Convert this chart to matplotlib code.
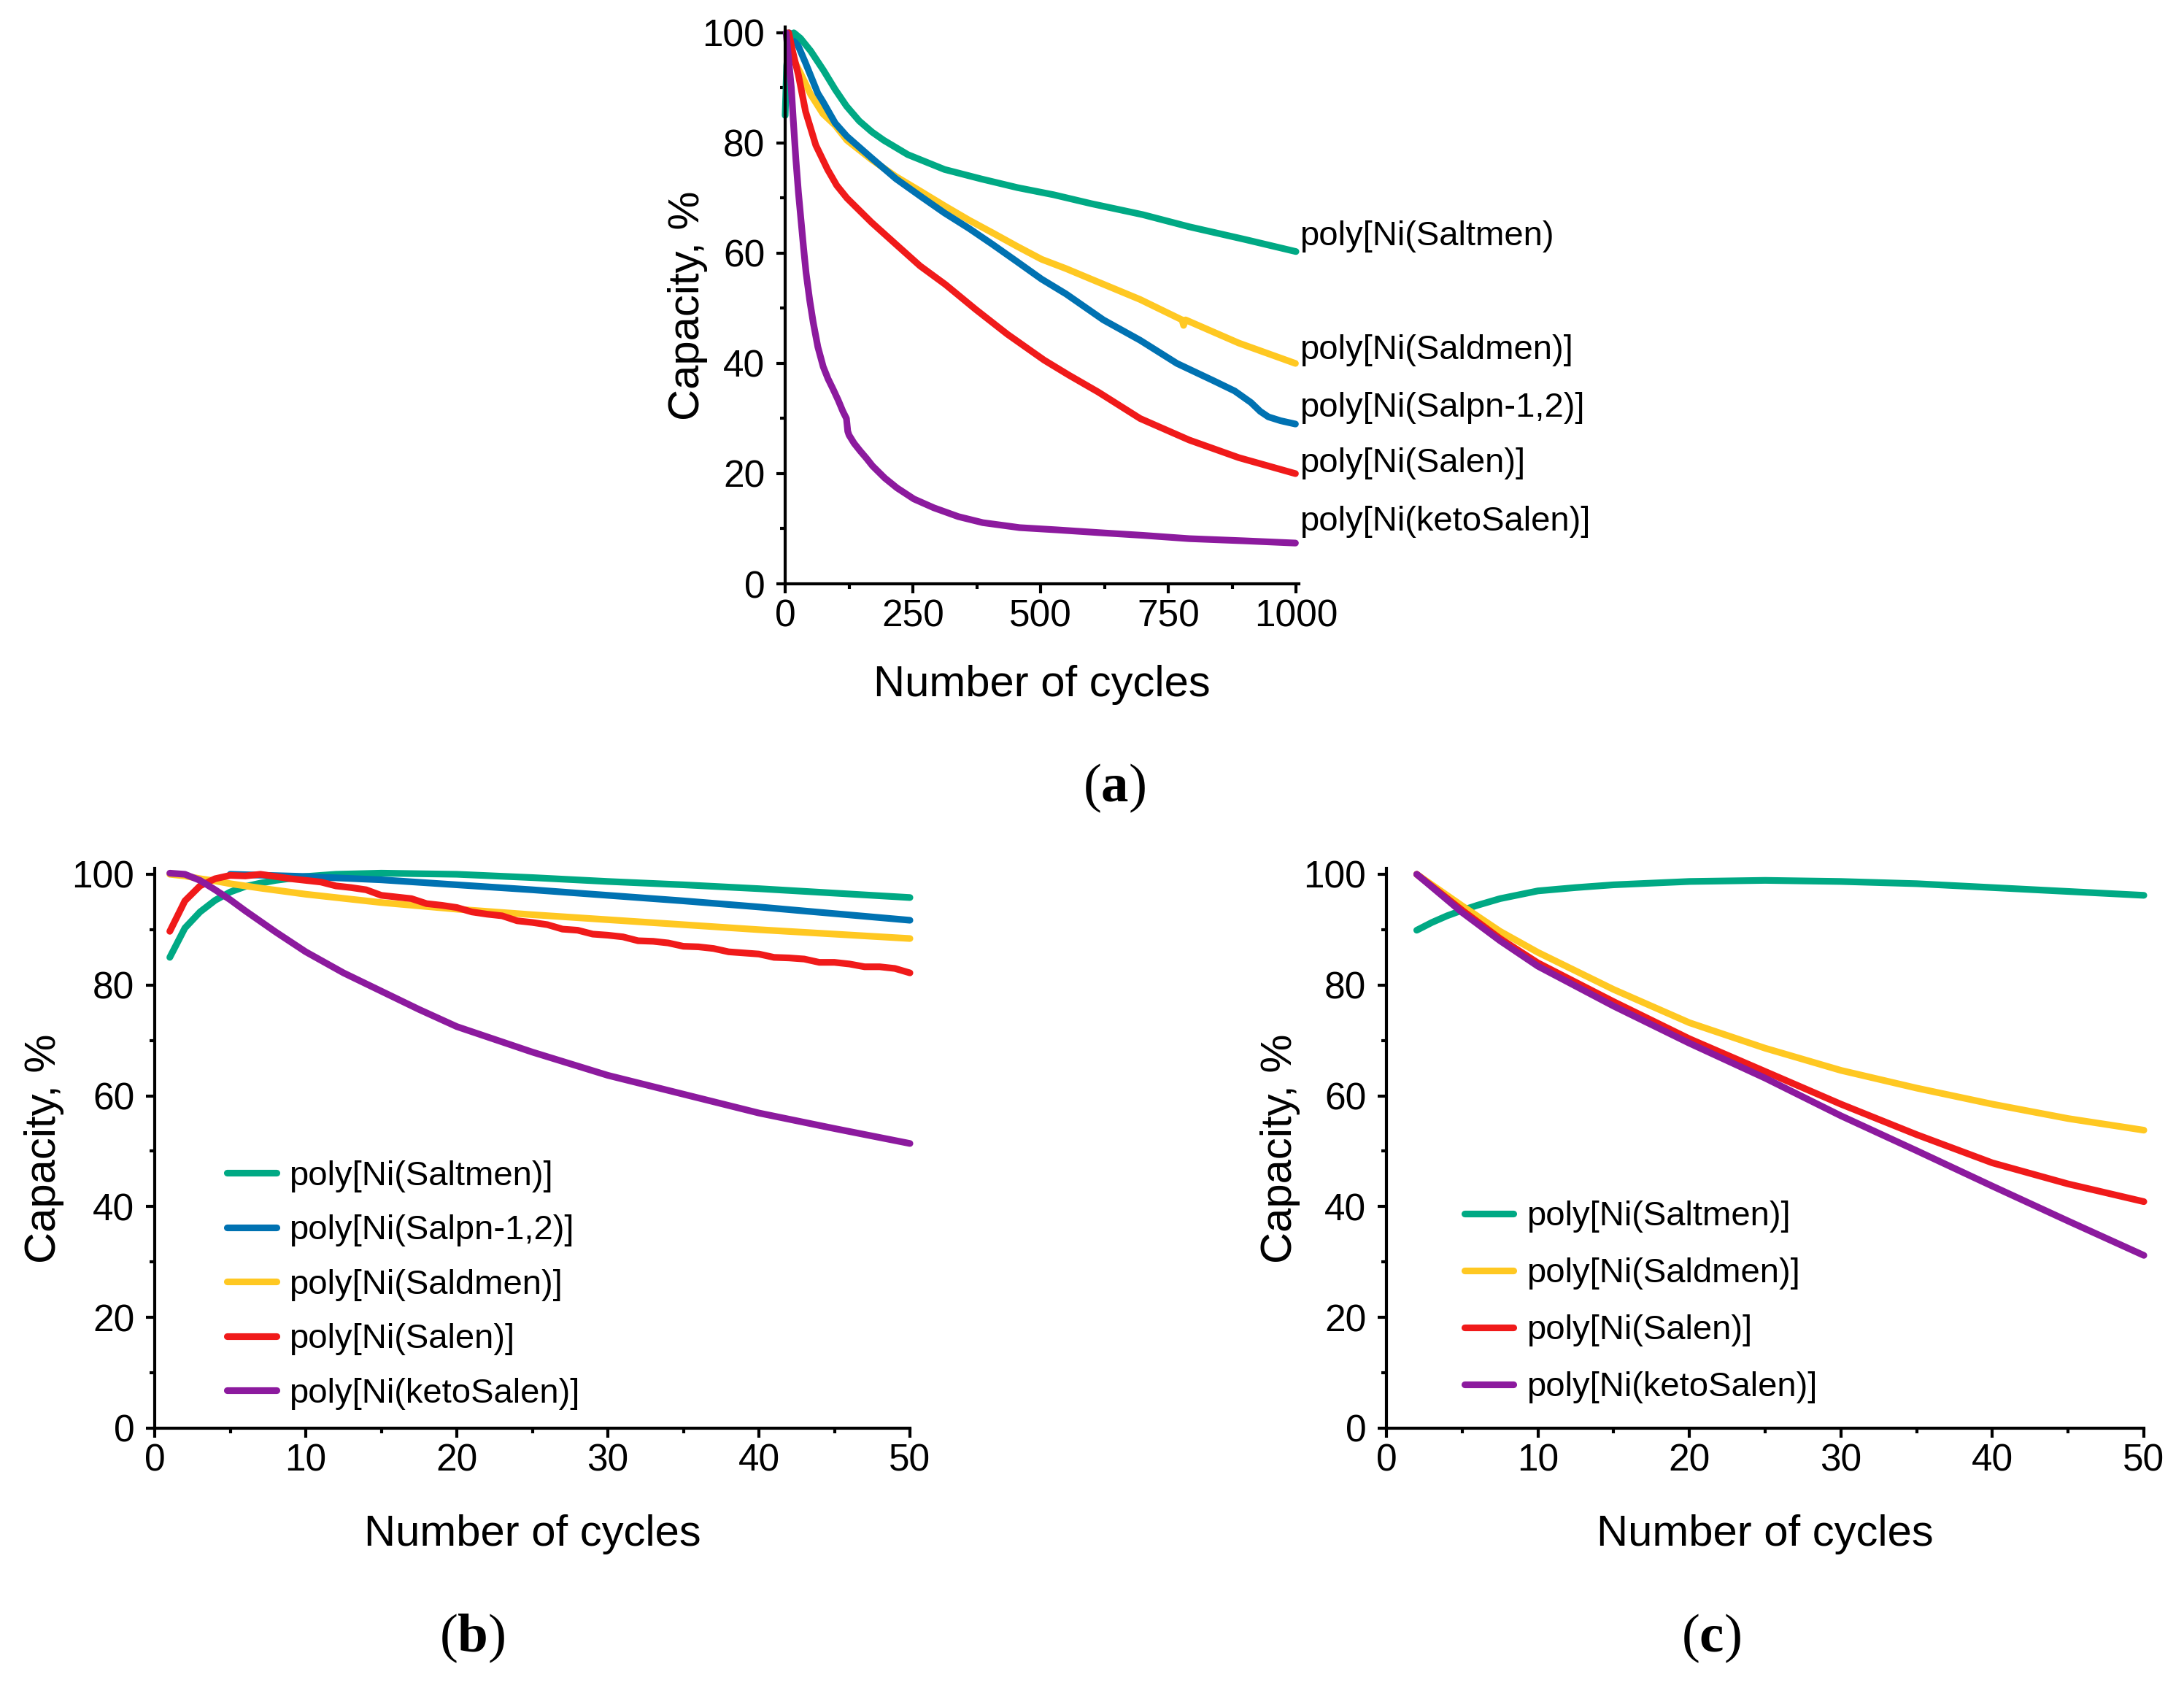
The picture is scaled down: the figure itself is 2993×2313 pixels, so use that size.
import numpy as np
import matplotlib
matplotlib.use('Agg')
import matplotlib.pyplot as plt

plt.rcParams['font.family'] = ['Liberation Sans', 'DejaVu Sans']
plt.rcParams['mathtext.fontset'] = 'custom'
plt.rcParams['mathtext.rm'] = 'Liberation Serif'
plt.rcParams['mathtext.bf'] = 'Liberation Serif:bold'

# colours
col_saltmen = '#00A984'
col_salpn = '#0072B2'
col_saldmen = '#FFC822'
col_salen = '#F01A1A'
col_keto = '#8C1A9E'

# ---- panel (a): 1000 cycles ----
a_x_saltmen = [0, 3, 8, 17, 30, 50, 75, 98, 120, 145, 170, 193, 240, 312, 383, 455, 526, 599, 700, 791, 900, 1000]
a_saltmen = [85, 94, 98.8, 100, 99, 96.7, 93.2, 89.7, 86.7, 84, 82, 80.5, 77.9, 75.2, 73.5, 71.9, 70.6, 69.0, 67.0, 64.8, 62.5, 60.3]

a_x_saldmen = [3, 10, 20, 31, 50, 74, 98, 121, 169, 217, 264, 312, 360, 406, 455, 502, 550, 599, 695, 777, 780, 784, 888, 999]
a_saldmen = [100, 97, 94.5, 92.5, 88.8, 85.3, 83.2, 80.5, 77, 73.9, 71.3, 68.6, 66, 63.7, 61.2, 58.9, 57.2, 55.3, 51.6, 47.9, 46.9, 47.9, 43.7, 40.0]

a_x_salpn = [8, 17, 40, 64, 74, 98, 121, 169, 217, 264, 312, 360, 406, 455, 502, 550, 623, 695, 767, 840, 880, 912, 930, 946, 970, 999]
a_salpn = [100, 99.5, 94.5, 89, 87.5, 83.6, 81.2, 77.3, 73.5, 70.4, 67.3, 64.5, 61.6, 58.4, 55.3, 52.6, 47.9, 44.2, 40.0, 36.8, 35, 32.9, 31.3, 30.3, 29.6, 29.0]

a_x_salen = [7, 15, 26, 40, 60, 83, 101, 121, 169, 217, 264, 314, 373, 435, 507, 555, 613, 695, 791, 888, 999]
a_salen = [100, 96.5, 92.3, 85.7, 79.6, 75.2, 72.3, 70, 65.6, 61.6, 57.7, 54.3, 49.8, 45.3, 40.6, 37.9, 34.8, 30.0, 26.1, 22.9, 20.0]

a_x_keto = [2, 7, 12, 16, 21, 26, 31, 36, 41, 48, 55, 64, 74.5, 84, 94, 104, 113, 120, 122.5, 125, 135, 147, 159, 171, 183, 195, 219, 252, 291, 339, 387, 459, 531, 613, 700, 791, 900, 999]
a_keto = [100, 95, 90.1, 84, 77, 71, 66, 61, 56.4, 51.5, 47.4, 43, 39.4, 37.2, 35.3, 33.3, 31.3, 30, 27.7, 27, 25.5, 24.1, 22.8, 21.4, 20.3, 19.2, 17.4, 15.4, 13.8, 12.2, 11.1, 10.2, 9.8, 9.3, 8.8, 8.2, 7.8, 7.4]

a_labels = ['poly[Ni(Saltmen)', 'poly[Ni(Saldmen)]', 'poly[Ni(Salpn-1,2)]', 'poly[Ni(Salen)]', 'poly[Ni(ketoSalen)]']
a_label_y = [63.1, 42.4, 31.9, 21.8, 11.2]

# ---- panel (b): first 50 cycles ----
b_x_saltmen = [1, 2, 3, 4, 5, 6, 7, 8, 10, 12, 15, 20, 25, 30, 35, 40, 45, 50]
b_saltmen = [85, 90.3, 93.2, 95.3, 96.8, 97.8, 98.4, 98.9, 99.6, 100, 100.2, 100, 99.4, 98.7, 98.1, 97.4, 96.6, 95.8]

b_x_salpn = [5, 10, 15, 20, 25, 30, 35, 40, 45, 50]
b_salpn = [100, 99.6, 99, 98.1, 97.2, 96.2, 95.2, 94.1, 92.9, 91.7]

b_x_saldmen = [1, 2, 3, 4, 5, 7, 10, 15, 20, 25, 30, 35, 40, 45, 50]
b_saldmen = [100, 99.7, 99.2, 98.8, 98.3, 97.5, 96.4, 94.9, 93.7, 92.7, 91.8, 90.9, 90, 89.2, 88.4]

b_x_salen = list(range(1, 51))
b_salen = [89.7, 95.2, 97.9, 99.2, 99.8, 99.7, 100, 99.6, 99.2, 98.9,
           98.6, 97.9, 97.6, 97.2, 96.2, 95.9, 95.6, 94.7, 94.4, 94,
           93.2, 92.8, 92.5, 91.6, 91.3, 90.9, 90.1, 89.9, 89.2, 89,
           88.7, 88, 87.9, 87.6, 87, 86.9, 86.6, 86, 85.8, 85.6,
           85, 84.9, 84.7, 84.1, 84.1, 83.8, 83.3, 83.3, 83, 82.2]

b_x_keto = [1, 2, 3, 4, 5, 6, 7, 8, 10, 12.5, 15, 17.5, 20, 25, 30, 35, 40, 45, 50]
b_keto = [100.2, 100, 98.9, 97.2, 95.4, 93.4, 91.5, 89.6, 86, 82.2, 78.9, 75.6, 72.5, 67.9, 63.7, 60.3, 56.9, 54.1, 51.4]

# ---- panel (c) ----
c_x_saltmen = [2, 3, 4, 5, 6, 7.5, 10, 12.5, 15, 20, 25, 30, 35, 40, 45, 50]
c_saltmen = [89.9, 91.3, 92.5, 93.5, 94.4, 95.6, 97, 97.6, 98.1, 98.7, 98.9, 98.7, 98.3, 97.6, 96.9, 96.2]

c_x = [2, 5, 7.5, 10, 15, 20, 25, 30, 35, 40, 45, 50]
c_saldmen = [100, 94.3, 89.7, 85.9, 79.2, 73.2, 68.6, 64.6, 61.4, 58.5, 55.9, 53.8]
c_salen = [100, 93.5, 88.4, 84, 77, 70.3, 64.4, 58.5, 53, 47.9, 44.1, 40.9]
c_keto = [100, 93.1, 88, 83.4, 76.2, 69.5, 63.2, 56.4, 50.1, 43.7, 37.4, 31.2]

W, H = 2993, 2313
fig = plt.figure(figsize=(W / 200, H / 200), dpi=200)


def rect(x0, x1, y0, y1):
    # pixel box -> figure fraction
    return [x0 / W, 1 - y0 / H, (x1 - x0) / W, (y0 - y1) / H]


lw = 3.3


def style(ax, xmaj, xmin, xlim):
    ax.set_xlim(*xlim)
    ax.set_ylim(0, 101)
    ax.set_xticks(np.arange(0, xlim[1] + 1e-9, xmaj))
    ax.set_xticks(np.arange(xmin, xlim[1], xmaj), minor=True)
    ax.set_yticks([0, 20, 40, 60, 80, 100])
    ax.set_yticks([10, 30, 50, 70, 90], minor=True)
    for s in ['top', 'right']:
        ax.spines[s].set_visible(False)
    for s in ['left', 'bottom']:
        ax.spines[s].set_linewidth(1.5)
    ax.tick_params(which='major', direction='out', length=4.5, width=1.5, labelsize=18.5)
    ax.tick_params(which='minor', direction='out', length=2.6, width=1.5)
    ax.tick_params(axis='x', pad=3)
    ax.tick_params(axis='y', pad=5.5)
    ax.set_xlabel('Number of cycles', fontsize=21.5)
    ax.set_ylabel('Capacity, %', fontsize=21.5)


def line(ax, x, y, c, label=None):
    ax.plot(x, y, color=c, lw=lw, solid_capstyle='round', solid_joinstyle='round', label=label, clip_on=False)


# (a)
ax_a = fig.add_axes(rect(1076, 1779.5, 800, 37.4))
style(ax_a, 250, 125, (0, 1005))
line(ax_a, a_x_saldmen, a_saldmen, col_saldmen)
line(ax_a, a_x_salpn, a_salpn, col_salpn)
line(ax_a, a_x_saltmen, a_saltmen, col_saltmen)
line(ax_a, a_x_salen, a_salen, col_salen)
line(ax_a, a_x_keto, a_keto, col_keto)
for lab, yv in zip(a_labels, a_label_y):
    ax_a.text(1007, yv, lab, fontsize=17, ha='left', va='center', clip_on=False)
ax_a.xaxis.set_label_coords(0.5, -0.145)
ax_a.yaxis.set_label_coords(-0.151, 0.5)

# (b)
ax_b = fig.add_axes(rect(212, 1247, 1957, 1190.4))
style(ax_b, 10, 5, (0, 50))
line(ax_b, b_x_saltmen, b_saltmen, col_saltmen, 'poly[Ni(Saltmen)]')
line(ax_b, b_x_salpn, b_salpn, col_salpn, 'poly[Ni(Salpn-1,2)]')
line(ax_b, b_x_saldmen, b_saldmen, col_saldmen, 'poly[Ni(Saldmen)]')
line(ax_b, b_x_salen, b_salen, col_salen, 'poly[Ni(Salen)]')
line(ax_b, b_x_keto, b_keto, col_keto, 'poly[Ni(ketoSalen)]')
ax_b.legend(loc='lower left', bbox_to_anchor=(0.096, 0.033), frameon=False, fontsize=17,
            handlelength=1.43, handletextpad=0.37, labelspacing=0.645, borderpad=0, borderaxespad=0)
ax_b.xaxis.set_label_coords(0.5, -0.154)
ax_b.yaxis.set_label_coords(-0.12, 0.5)

# (c)
ax_c = fig.add_axes(rect(1900, 2938, 1957, 1190.4))
style(ax_c, 10, 5, (0, 50))
line(ax_c, c_x_saltmen, c_saltmen, col_saltmen, 'poly[Ni(Saltmen)]')
line(ax_c, c_x, c_saldmen, col_saldmen, 'poly[Ni(Saldmen)]')
line(ax_c, c_x, c_salen, col_salen, 'poly[Ni(Salen)]')
line(ax_c, c_x, c_keto, col_keto, 'poly[Ni(ketoSalen)]')
ax_c.legend(loc='lower left', bbox_to_anchor=(0.103, 0.044), frameon=False, fontsize=17,
            handlelength=1.43, handletextpad=0.37, labelspacing=0.72, borderpad=0, borderaxespad=0)
ax_c.xaxis.set_label_coords(0.5, -0.154)
ax_c.yaxis.set_label_coords(-0.114, 0.5)

# panel letters
for txt, px, py in [('a', 1527, 1080), ('b', 647, 2245), ('c', 2345, 2245)]:
    fig.text(px / W, 1 - py / H, r'$(\mathbf{%s})$' % txt, fontsize=27, ha='center', va='center')

fig.savefig('out.png', dpi=200)
